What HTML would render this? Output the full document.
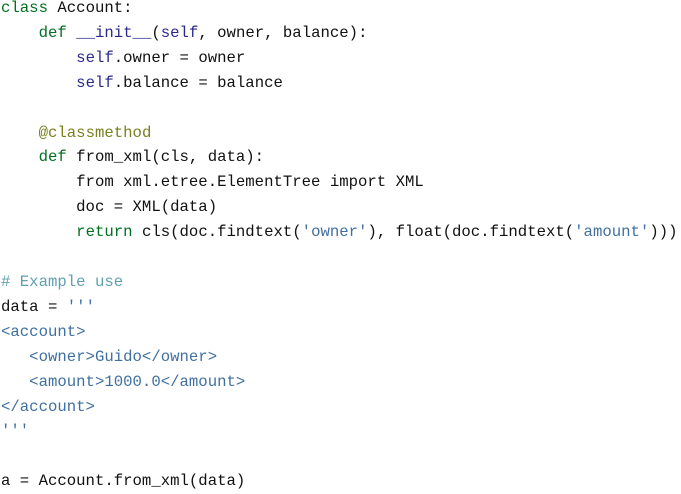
<!DOCTYPE html>
<html><head><meta charset="utf-8"><style>
html,body{margin:0;padding:0;background:#fff;width:681px;height:488px;overflow:hidden}
pre{margin:0;position:absolute;left:1px;top:-4px;font-family:"Liberation Mono",monospace;font-size:15.67px;line-height:24.9px;color:#111}
.k{color:#007020}.s{color:#2a2a8c}.d{color:#7a8020}.t{color:#4070a0}.c{color:#60a0b0}
</style></head><body><pre><span class="k">class</span> Account:
    <span class="k">def</span> <span class="s">__init__</span>(<span class="s">self</span>, owner, balance):
        <span class="s">self</span>.owner = owner
        <span class="s">self</span>.balance = balance

    <span class="d">@classmethod</span>
    <span class="k">def</span> from_xml(cls, data):
        from xml.etree.ElementTree import XML
        doc = XML(data)
        <span class="k">return</span> cls(doc.findtext(<span class="t">'owner'</span>), float(doc.findtext(<span class="t">'amount'</span>)))

<span class="c"># Example use</span>
data = <span class="t">'''</span>
<span class="t">&lt;account&gt;</span>
<span class="t">   &lt;owner&gt;Guido&lt;/owner&gt;</span>
<span class="t">   &lt;amount&gt;1000.0&lt;/amount&gt;</span>
<span class="t">&lt;/account&gt;</span>
<span class="t">'''</span>

a = Account.from_xml(data)
</pre></body></html>
